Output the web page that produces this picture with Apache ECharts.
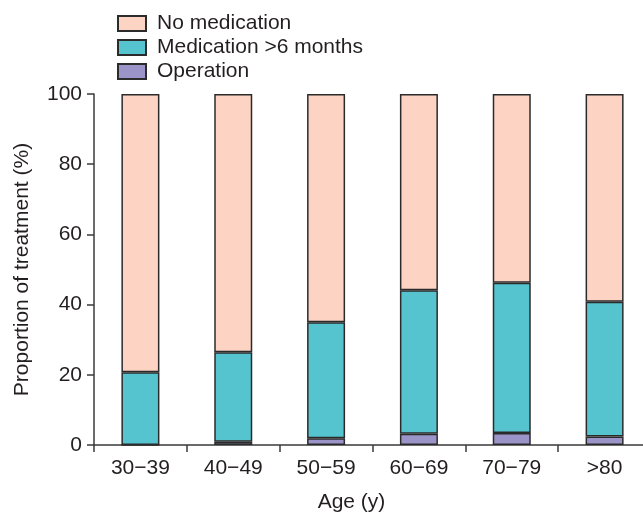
<!DOCTYPE html>
<html>
<head>
<meta charset="utf-8">
<script src="https://cdn.jsdelivr.net/npm/echarts@6/dist/echarts.min.js"></script>
<style>
html,body{margin:0;padding:0;background:#fff;}
#c{width:643px;height:512px;}
</style>
</head>
<body>
<div id="c"></div>
<script>
const categories = ['30\u221239', '40\u221249', '50\u221259', '60\u221269', '70\u221279', '>80'];
const operation = [0, 0.9, 1.9, 3.2, 3.4, 2.4];
const medication = [20.7, 25.5, 33.1, 40.9, 42.8, 38.4];
const noMedication = [79.3, 73.6, 65.0, 55.9, 53.8, 59.2];
const yTicks = [0, 20, 40, 60, 80, 100];

const font = 'Liberation Sans, Arial, Helvetica, sans-serif';
const textColor = '#231f20';
const axisColor = '#3a3a3a';
const border = { borderColor: '#2b2b2b', borderWidth: 1.5 };
const fs = 21;

const chart = echarts.init(document.getElementById('c'), null, { renderer: 'canvas' });
chart.setOption({
  animation: false,
  backgroundColor: '#fff',
  textStyle: { fontFamily: font, color: textColor },
  legend: {
    orient: 'vertical',
    left: 112,
    top: 8,
    itemWidth: 28,
    itemHeight: 15,
    itemGap: 3,
    icon: 'rect',
    data: ['No medication', 'Medication >6 months', 'Operation'],
    textStyle: { fontFamily: font, fontSize: fs, lineHeight: 21, color: textColor, padding: [0, 0, 0, 6] }
  },
  grid: { left: 94, top: 94, width: 557, height: 351, containLabel: false, outerBoundsMode: 'none' },
  xAxis: {
    type: 'category',
    data: categories,
    name: 'Age (y)',
    nameLocation: 'middle',
    nameGap: 47,
    nameTextStyle: { fontFamily: font, fontSize: fs, color: textColor, padding: [0, 42, 0, 0] },
    axisLine: { lineStyle: { color: axisColor, width: 1.5 } },
    axisTick: { show: true, length: 7, lineStyle: { color: axisColor, width: 1.5 } },
    axisLabel: { fontFamily: font, fontSize: fs, color: textColor, margin: 13 },
    splitLine: { show: false }
  },
  yAxis: {
    type: 'value',
    min: 0,
    max: 100,
    interval: 20,
    name: 'Proportion of treatment (%)',
    nameLocation: 'middle',
    nameGap: 61,
    nameTextStyle: { fontFamily: font, fontSize: fs, color: textColor },
    axisLine: { show: true, lineStyle: { color: axisColor, width: 1.5 } },
    axisTick: { show: true, length: 7, lineStyle: { color: axisColor, width: 1.5 } },
    axisLabel: {
      fontFamily: font, fontSize: fs, color: textColor, margin: 12,
      formatter: v => (yTicks.indexOf(v) >= 0 ? String(v) : '')
    },
    splitLine: { show: false }
  },
  series: [
    {
      name: 'Operation', type: 'bar', stack: 'a', barWidth: 38,
      data: operation,
      itemStyle: Object.assign({ color: '#9b94c8' }, border)
    },
    {
      name: 'Medication >6 months', type: 'bar', stack: 'a', barWidth: 38,
      data: medication,
      itemStyle: Object.assign({ color: '#55c4ce' }, border)
    },
    {
      name: 'No medication', type: 'bar', stack: 'a', barWidth: 38,
      data: noMedication,
      itemStyle: Object.assign({ color: '#fdd3c3' }, border)
    }
  ]
});
</script>
</body>
</html>
